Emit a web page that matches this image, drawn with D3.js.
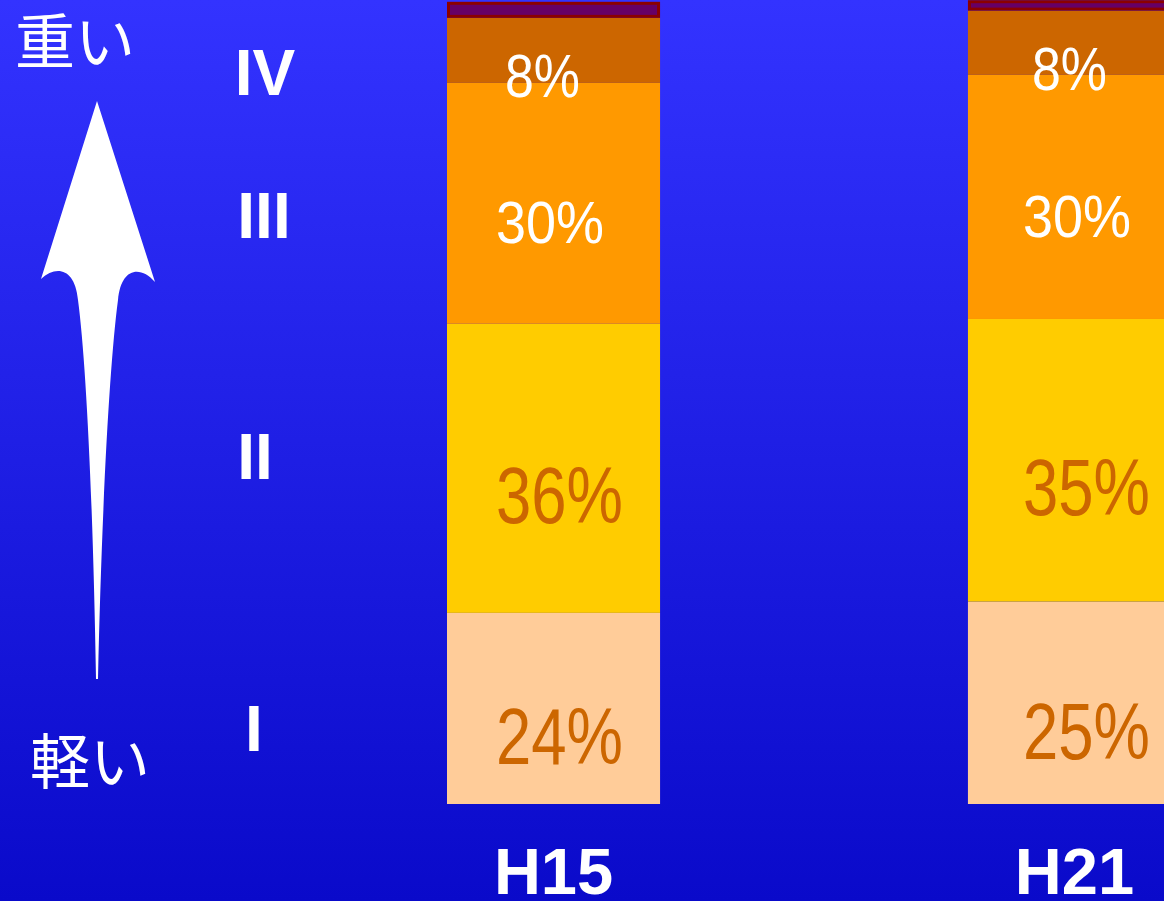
<!DOCTYPE html>
<html>
<head>
<meta charset="utf-8">
<script src="https://cdn.jsdelivr.net/npm/d3@7"></script>
<style>
  html, body { margin: 0; padding: 0; background: #1a1ae0; }
  svg { display: block; }
</style>
</head>
<body>
<div id="chart"></div>
<script>
// data
const categories = ["H15", "H21"];
const classes = ["I", "II", "III", "IV", "V"];
const valuesH15 = [23.8, 36.0, 30.0, 8.1, 2.0];
const valuesH21 = [25.2, 35.2, 30.4, 8.0, 1.3];
const classColors = ["#FFCC99", "#FFCC00", "#FF9900", "#CC6600", "#660066"];
const labelColors = ["#CC6600", "#CC6600", "#FFFFFF", "#FFFFFF"];
const heavyLabel = "重い";
const lightLabel = "軽い";

const W = 1164, H = 901;

const rows = categories.map((c, i) => {
  const vals = i === 0 ? valuesH15 : valuesH21;
  const r = { cat: c };
  classes.forEach((k, j) => r[k] = vals[j]);
  return r;
});

const svg = d3.select("#chart").append("svg")
  .attr("width", W).attr("height", H);

// 背景グラデーション
const grad = svg.append("defs").append("linearGradient")
  .attr("id", "bg").attr("x1", 0).attr("y1", 0).attr("x2", 0).attr("y2", 1);
grad.append("stop").attr("offset", "0%").attr("stop-color", "#3333FF");
grad.append("stop").attr("offset", "100%").attr("stop-color", "#0A0ACA");
svg.append("rect").attr("width", W).attr("height", H).attr("fill", "url(#bg)");

const x = d3.scaleBand().domain(categories).range([447, 1181]).paddingInner(0.591).paddingOuter(0);
const y = d3.scaleLinear().domain([0, 100]).range([804, 1]);

const stacked = d3.stack().keys(classes)(rows);

// bars
const layers = svg.append("g").attr("class", "bars")
  .selectAll("g")
  .data(stacked)
  .join("g")
  .attr("fill", (d, i) => classColors[i]);

layers.selectAll("rect")
  .data(d => d.map(p => ({ p, key: d.key })))
  .join("rect")
  .attr("x", d => x(d.p.data.cat) + (d.key === "V" ? 1.5 : 0))
  .attr("width", d => x.bandwidth() - (d.key === "V" ? 3 : 0))
  .attr("y", d => y(d.p[1]) + (d.key === "V" ? 1.5 : 0))
  .attr("height", d => y(d.p[0]) - y(d.p[1]) - (d.key === "V" ? 3 : 0))
  .attr("stroke", d => d.key === "V" ? "#8B0000" : "none")
  .attr("stroke-width", 3);

// percent labels (I..IV)
const labelSize = [80, 80, 59, 62];
const labelLen = [127, 127, 108, 75];
const labelDy = [56, 55, 40, 47];
const startOffset = [49, 55];
const pctData = [];
stacked.slice(0, 4).forEach((layer, j) => {
  layer.forEach((p, i) => {
    pctData.push({ j, i, p, text: Math.round(p[1] - p[0]) + "%" });
  });
});
svg.append("g").attr("class", "pct")
  .selectAll("text")
  .data(pctData)
  .join("text")
  .attr("x", d => x(categories[d.i]) + startOffset[d.i] + (d.j === 3 ? 9 : 0))
  .attr("y", d => (y(d.p[0]) + y(d.p[1])) / 2 + labelDy[d.j])
  .attr("fill", d => labelColors[d.j])
  .attr("font-family", "'Liberation Sans', Arial, sans-serif")
  .attr("font-size", d => labelSize[d.j])
  .attr("textLength", d => labelLen[d.j])
  .attr("lengthAdjust", "spacingAndGlyphs")
  .text(d => d.text);

// category labels
svg.append("g").attr("class", "x-labels")
  .selectAll("text")
  .data(categories)
  .join("text")
  .attr("x", d => x(d) + x.bandwidth() / 2)
  .attr("y", 894)
  .attr("text-anchor", "middle")
  .attr("fill", "#fff")
  .attr("font-family", "'Liberation Sans', Arial, sans-serif")
  .attr("font-weight", "bold")
  .attr("font-size", 65)
  .text(d => d);

// roman numerals on the left
const romanPos = { I: [254, 751], II: [255, 479], III: [264, 238], IV: [265, 95] };
svg.append("g").attr("class", "roman")
  .selectAll("text")
  .data(classes.slice(0, 4))
  .join("text")
  .attr("x", d => romanPos[d][0])
  .attr("y", d => romanPos[d][1])
  .attr("text-anchor", "middle")
  .attr("fill", "#fff")
  .attr("font-family", "'Liberation Sans', Arial, sans-serif")
  .attr("font-weight", "bold")
  .attr("font-size", 64)
  .text(d => d);

// 矢印
svg.append("path")
  .attr("fill", "#fff")
  .attr("d", "M97,101 L155,282 C140,265 121,268 118,300 C110,360 102,500 98,679 " +
             "L96,679 C93,500 86,360 78,300 C75,268 56,265 41,279 Z");

svg.append("text")
  .attr("x", 15).attr("y", 64)
  .attr("fill", "#fff")
  .attr("font-family", "'Noto Sans CJK JP', sans-serif")
  .attr("font-size", 60)
  .text(heavyLabel);

svg.append("text")
  .attr("x", 30).attr("y", 784)
  .attr("fill", "#fff")
  .attr("font-family", "'Noto Sans CJK JP', sans-serif")
  .attr("font-size", 60)
  .text(lightLabel);
</script>
</body>
</html>
